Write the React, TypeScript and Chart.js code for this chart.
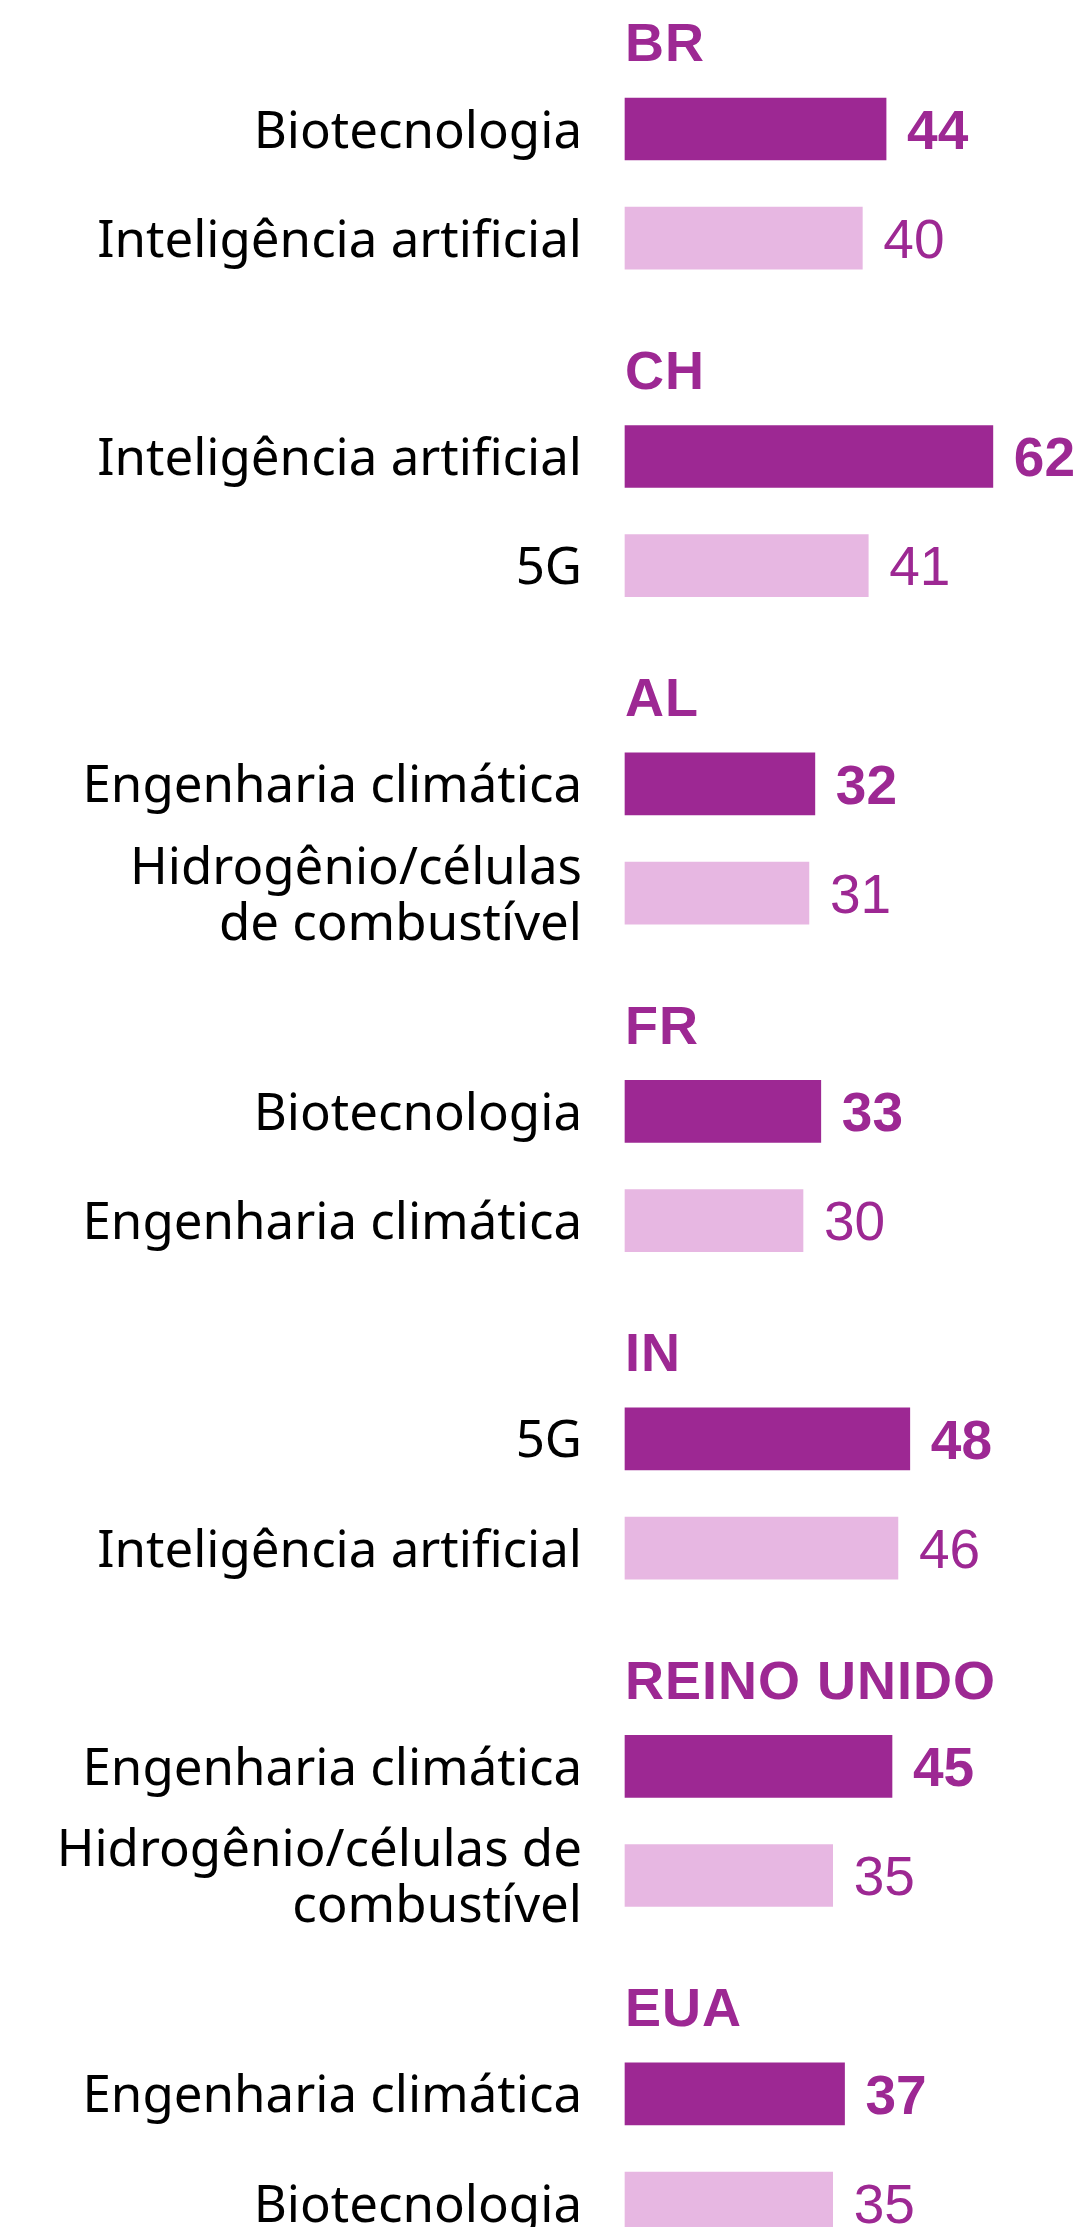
import React, { useEffect, useRef } from "react";
import { Chart, registerables } from "chart.js";

Chart.register(...registerables);

const countries = ["BR", "CH", "AL", "FR", "IN", "REINO UNIDO", "EUA"];
const firstTech: (string | string[])[] = [
  "Biotecnologia",
  "Inteligência artificial",
  "Engenharia climática",
  "Biotecnologia",
  "5G",
  "Engenharia climática",
  "Engenharia climática",
];
const firstValues = [44, 62, 32, 33, 48, 45, 37];
const secondTech: (string | string[])[] = [
  "Inteligência artificial",
  "5G",
  ["Hidrogênio/células", "de combustível"],
  "Engenharia climática",
  "Inteligência artificial",
  ["Hidrogênio/células de", "combustível"],
  "Biotecnologia",
];
const secondValues = [40, 41, 31, 30, 46, 35, 35];

const DARK = "#9D2893";
const LIGHT = "#E7B7E2";

export default function App() {
  const ref = useRef<HTMLCanvasElement | null>(null);

  useEffect(() => {
    document.body.style.margin = "0";
    const canvas = ref.current;
    if (!canvas) return;

    const labels: (string | string[])[] = [];
    const values: (number | null)[] = [];
    countries.forEach((_, g) => {
      labels.push(firstTech[g]);
      values.push(firstValues[g]);
      labels.push(secondTech[g]);
      values.push(secondValues[g]);
      if (g < countries.length - 1) {
        labels.push("");
        values.push(null);
      }
    });

    const annotate = {
      id: "annotate",
      afterDatasetsDraw(chart: any) {
        const ctx = chart.ctx;
        const yScale = chart.scales.y;
        const meta = chart.getDatasetMeta(0);
        ctx.save();
        ctx.fillStyle = DARK;
        ctx.textAlign = "left";
        ctx.textBaseline = "alphabetic";
        // group headers
        const hSize = 54;
        ctx.font = `bold ${hSize}px 'Liberation Sans', Arial, sans-serif`;
        try {
          (ctx as any).letterSpacing = "1px";
        } catch (e) {}
        countries.forEach((c, g) => {
          const yc = yScale.getPixelForValue(g * 3) - 87;
          ctx.fillText(c, chart.chartArea.left, yc + (hSize * 0.716) / 2);
        });
        try {
          (ctx as any).letterSpacing = "0px";
        } catch (e) {}
        // value labels
        const vSize = 55;
        meta.data.forEach((bar: any, i: number) => {
          const v = values[i];
          if (v == null) return;
          const first = i % 3 === 0;
          ctx.font = `${first ? "bold " : ""}${vSize}px 'Liberation Sans', Arial, sans-serif`;
          ctx.fillText(String(v), bar.x + 21, bar.y + (vSize * 0.716) / 2);
        });
        ctx.restore();
      },
    };

    const chart = new Chart(canvas, {
      type: "bar",
      data: {
        labels,
        datasets: [
          {
            data: values,
            backgroundColor: values.map((_, i) => (i % 3 === 0 ? DARK : LIGHT)),
            borderWidth: 0,
            barThickness: 62,
            clip: false as any,
          },
        ],
      },
      options: {
        indexAxis: "y",
        animation: false,
        responsive: false,
        devicePixelRatio: 1,
        layout: { padding: { left: 0, right: 16, top: 129, bottom: 77 } },
        plugins: { legend: { display: false }, tooltip: { enabled: false } },
        scales: {
          x: {
            display: false,
            min: 0,
            max: 75,
          },
          y: {
            type: "category",
            offset: false,
            grid: { display: false, drawTicks: false },
            border: { display: false },
            afterFit: (scale: any) => {
              scale.width = 625;
            },
            ticks: {
              autoSkip: false,
              padding: 43,
              labelOffset: 4,
              color: "#000",
              font: { family: "'Noto Sans', sans-serif", size: 51, lineHeight: 1.1 },
            },
          },
        },
      },
      plugins: [annotate],
    });

    return () => chart.destroy();
  }, []);

  return (
    <div
      style={{
        position: "absolute",
        left: 0,
        top: 0,
        width: 1086,
        height: 2227,
        overflow: "hidden",
        background: "#fff",
      }}
    >
      <canvas ref={ref} width={1086} height={2280} style={{ width: 1086, height: 2280, display: "block" }} />
    </div>
  );
}
